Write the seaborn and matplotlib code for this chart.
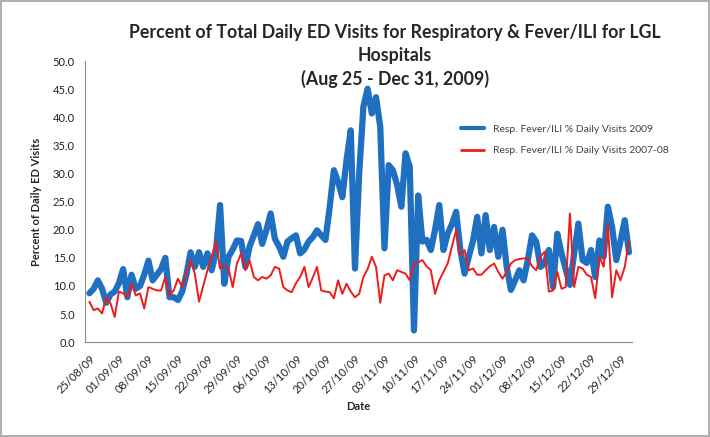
import matplotlib
matplotlib.use('Agg')
import matplotlib.pyplot as plt
import matplotlib.dates as mdates
import seaborn as sns
import pandas as pd

# daily values, 25 Aug - 31 Dec
dates = pd.date_range('2009-08-25', '2009-12-31', freq='D')

resp_2009 = [8.7, 9.5, 11, 9.5, 7, 8.5, 9, 10.5, 13, 8, 12, 9.5, 10, 12, 14.5, 11,
             12, 13, 15, 8, 8, 7.5, 9, 12, 16, 13.4, 16, 13.4, 15.8, 12.8, 16, 24.4,
             10.4, 15.2, 16.5, 18.1, 18, 13.4, 17, 19, 21, 17.5, 20, 22.9, 18.4, 17,
             15.2, 17.9, 18.5, 19, 15.8, 16.5, 17.9, 18.7, 19.9, 19, 18.2, 24, 30.6,
             28.5, 25.8, 32.4, 37.7, 13.1, 30, 41.9, 45.1, 40.7, 43.6, 38.3, 16.7,
             31.5, 30.6, 28, 24.1, 33.6, 31.2, 2.1, 26.1, 17.9, 18.2, 16.4, 20, 24.4,
             16.4, 19.3, 21, 23.2, 16.4, 12.2, 15.2, 18, 22.3, 15.8, 22.6, 16.4, 20.5,
             15.2, 20, 13.4, 9.3, 11, 12.8, 11, 14.6, 19, 17.9, 13.4, 14, 16.4, 9.8,
             19.3, 15.8, 13, 10.2, 15.8, 21.1, 14.6, 14.1, 16.4, 11.6, 18.1, 15.2,
             24.1, 20.5, 14.6, 18, 21.7, 16]

resp_2007_08 = [7.2, 5.7, 6, 5.1, 8, 6.9, 4.5, 9, 8.7, 8, 10.4, 8.3, 8.7, 6, 9.8, 9.5,
                9.2, 9.2, 11.6, 8.3, 9.2, 11.3, 9.8, 12.2, 14.6, 12.2, 7.2, 10, 12.8,
                15.2, 17.9, 13.1, 13.7, 13.1, 9.8, 14, 15.8, 12.8, 14.6, 11.6, 11, 11.6,
                11.3, 11.9, 13.4, 13.1, 9.8, 9.2, 8.9, 10.5, 11.6, 13.4, 9.8, 11.5, 13.4,
                9.2, 9, 8.9, 7.8, 11, 8.6, 10.4, 9, 8, 8.6, 11.6, 13, 15.2, 13.4, 7,
                11.9, 12.2, 11, 12.8, 12.5, 12.2, 11, 14, 14.2, 14.6, 13.5, 12.8, 8.6,
                11, 12.5, 14, 17, 19.9, 15.5, 16.4, 12.8, 13.1, 12, 12, 12.8, 13.5, 14,
                12.5, 11.3, 12.5, 14, 14.6, 14.8, 14.9, 14.9, 13.5, 12.8, 15.2, 16.1, 9,
                9.2, 12.5, 9.5, 9.8, 22.9, 9.8, 13.4, 13.1, 12, 11.6, 7.8, 15.2, 13.4,
                21.1, 8, 12.8, 11, 13.4, 18]

tick_dates = pd.date_range('2009-08-25', '2009-12-29', freq='7D')
y_ticks = [0, 5, 10, 15, 20, 25, 30, 35, 40, 45, 50]

label_2009 = 'Resp. Fever/ILI % Daily Visits 2009'
label_0708 = 'Resp. Fever/ILI % Daily Visits 2007-08'

df = pd.DataFrame({'Date': dates, 'v2009': resp_2009, 'v0708': resp_2007_08})

sns.set_style('white')
plt.rcParams['font.family'] = ['Lato', 'DejaVu Sans']

fig = plt.figure(figsize=(7.1, 4.37), dpi=100)
fig.patch.set_edgecolor('#b0b0b0')
fig.patch.set_linewidth(1.5)
ax = fig.add_axes([0.12, 0.217, 0.77, 0.643])

sns.lineplot(data=df, x='Date', y='v2009', color='#1f70c1', lw=4.5,
             label=label_2009, ax=ax)
sns.lineplot(data=df, x='Date', y='v0708', color='#ee1c1c', lw=1.4,
             label=label_0708, ax=ax)

ax.set_ylim(0, 50)
ax.set_xlim(dates[0] - pd.Timedelta(days=1), dates[0] + pd.Timedelta(days=128.7))
ax.set_yticks(y_ticks)
ax.set_yticklabels([f'{v:.1f}' for v in y_ticks], fontsize=8)
ax.set_xticks(tick_dates)
ax.xaxis.set_major_formatter(mdates.DateFormatter('%d/%m/%y'))
plt.setp(ax.get_xticklabels(), rotation=45, ha='right', rotation_mode='anchor', fontsize=8)

for s in ['top', 'right']:
    ax.spines[s].set_visible(False)
for s in ['left', 'bottom']:
    ax.spines[s].set_color('#8c8c8c')
ax.tick_params(axis='both', direction='out', length=4, color='#8c8c8c', labelcolor='#222222')

ax.set_xlabel('Date', fontsize=8, fontweight='bold')
ax.set_ylabel('Percent of Daily ED Visits', fontsize=8, fontweight='bold', labelpad=8)

fig.text(0.556, 0.945,
         'Percent of Total Daily ED Visits for Respiratory & Fever/ILI for LGL\nHospitals\n(Aug 25 - Dec 31, 2009)',
         ha='center', va='top', fontsize=12.8, fontweight='bold', linespacing=1.4)

leg = ax.legend(loc='upper left', bbox_to_anchor=(452 / 710, 1 - 115 / 437),
                bbox_transform=fig.transFigure, frameon=False, fontsize=7.5,
                handlelength=2.2, labelspacing=1.2, labelcolor='#404040')
leg.get_lines()[0].set_linewidth(3)
leg.get_lines()[1].set_linewidth(2)

fig.savefig('out.png', dpi=100)
